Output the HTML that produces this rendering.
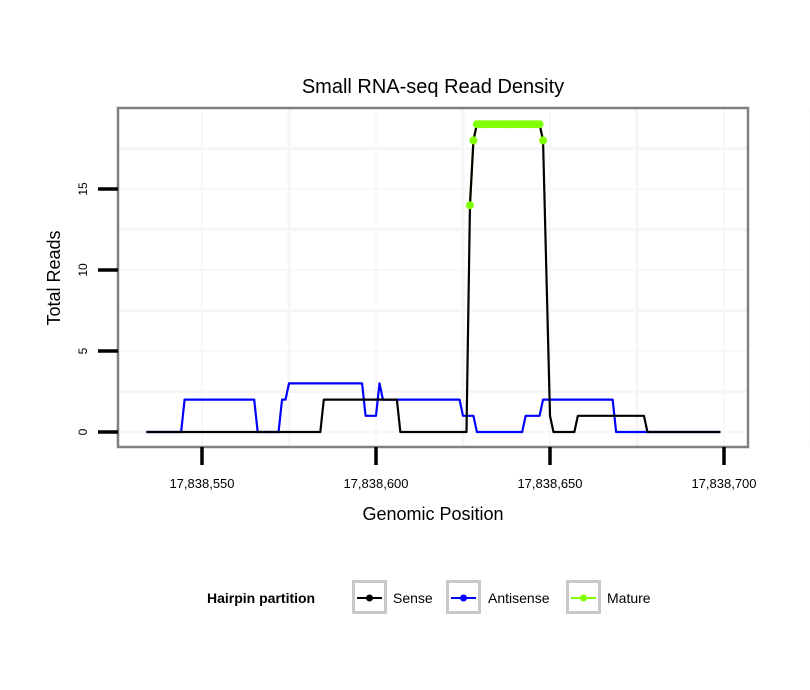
<!DOCTYPE html>
<html><head><meta charset="utf-8"><style>
body{margin:0;background:#fff;}
svg{display:block;font-family:"Liberation Sans",Arial,sans-serif;}
</style></head><body>
<svg id="chart" width="810" height="690" viewBox="0 0 810 690">
<rect width="810" height="690" fill="#fff"/>
<text x="433" y="93" font-size="20" text-anchor="middle">Small RNA-seq Read Density</text>
<g id="grid"></g>
<g id="series"></g>
<rect x="118" y="108" width="630" height="339" fill="none" stroke="#808080" stroke-width="2.5"/>
<g id="axes"></g>
<text x="433" y="520" font-size="18" text-anchor="middle">Genomic Position</text>
<text transform="translate(60,278) rotate(-90)" font-size="18" text-anchor="middle">Total Reads</text>
<g>
<text x="207" y="603" font-size="14" font-weight="bold">Hairpin partition</text>
<g>
<rect x="353.5" y="581.5" width="32" height="31" fill="#fff" stroke="#c8c8c8" stroke-width="3"/>
<line x1="357" y1="598" x2="382" y2="598" stroke="#000" stroke-width="2"/><circle cx="369.5" cy="598" r="3.5" fill="#000"/>
<text x="393" y="603" font-size="14">Sense</text></g>
<g>
<rect x="447.5" y="581.5" width="32" height="31" fill="#fff" stroke="#c8c8c8" stroke-width="3"/>
<line x1="451" y1="598" x2="476" y2="598" stroke="#0000ff" stroke-width="2"/><circle cx="463.5" cy="598" r="3.5" fill="#0000ff"/>
<text x="488" y="603" font-size="14">Antisense</text></g>
<g>
<rect x="567.5" y="581.5" width="32" height="31" fill="#fff" stroke="#c8c8c8" stroke-width="3"/>
<line x1="571" y1="598" x2="596" y2="598" stroke="#80ff00" stroke-width="2"/><circle cx="583.5" cy="598" r="3.5" fill="#80ff00"/>
<text x="607" y="603" font-size="14">Mature</text></g>
</g>
</svg>
<script>
const BASE = 17838500;
const senseX = [34,84,85,106,107,126,127,128,129,147,148,150,151,157,158,177,178,199];
const senseY = [0,0,2,2,0,0,14,18,19,19,18,1,0,0,1,1,0,0];
const antisenseX = [34,44,45,65,66,72,73,74,75,96,97,100,101,102,124,125,128,129,142,143,147,148,168,169,199];
const antisenseY = [0,0,2,2,0,0,2,2,3,3,1,1,3,2,2,1,1,0,0,1,1,2,2,0,0];
const matureX = [127,128,129,130,131,132,133,134,135,136,137,138,139,140,141,142,143,144,145,146,147,148];
const matureY = [14,18,19,19,19,19,19,19,19,19,19,19,19,19,19,19,19,19,19,19,19,18];
const xTicks = [17838550,17838600,17838650,17838700];
const xTickLabels = ["17,838,550","17,838,600","17,838,650","17,838,700"];
const yTicks = [0,5,10,15];
const yTickLabels = ["0","5","10","15"];

const NS="http://www.w3.org/2000/svg";
function sx(p){return 202+(p-17838550)*3.48;}
function sy(v){return 432-v*16.2;}
function mk(tag,attrs,parent){const e=document.createElementNS(NS,tag);for(const k in attrs)e.setAttribute(k,attrs[k]);parent.appendChild(e);return e;}
const grid=document.getElementById('grid'),series=document.getElementById('series'),axes=document.getElementById('axes');
for(let i=0;i<yTicks.length;i++){
  const y=sy(yTicks[i]);const l=mk('line',{x1:118,x2:748,y1:y,y2:y,stroke:'#f8f8f8','stroke-width':2},grid);
  
  
  const m=sy(yTicks[i]+2.5);const l2=mk('line',{x1:118,x2:748,y1:m,y2:m,stroke:'#f6f6f6','stroke-width':3},grid);
  
  
}
for(let i=0;i<xTicks.length;i++){
  const x=sx(xTicks[i]);const l=mk('line',{x1:x,x2:x,y1:108,y2:447,stroke:'#f8f8f8','stroke-width':2},grid);
  
  
  const m=sx(xTicks[i]+25);const l2=mk('line',{x1:m,x2:m,y1:108,y2:447,stroke:'#f6f6f6','stroke-width':3},grid);
  
  
}
for(let i=0;i<yTicks.length;i++){
  const y=sy(yTicks[i]);
  const t=mk('line',{x1:98,x2:118,y1:y,y2:y,stroke:'#000','stroke-width':3.5},axes);
  
  
  const tx=mk('text',{transform:`translate(87,${y}) rotate(-90)`,'font-size':12,'text-anchor':'middle'},axes);
  tx.textContent=yTickLabels[i];
  
  
}
for(let i=0;i<xTicks.length;i++){
  const x=sx(xTicks[i]);
  const t=mk('line',{x1:x,x2:x,y1:447,y2:465,stroke:'#000','stroke-width':3.5},axes);
  
  
  const tx=mk('text',{x:x,y:488,'font-size':13,'text-anchor':'middle'},axes);
  tx.textContent=xTickLabels[i];
  
  
}
function line(X,Y,color,name,w){
  const pts=X.map((p,i)=>sx(BASE+p)+','+sy(Y[i])).join(' ');
  const pl=mk('polyline',{points:pts,fill:'none',stroke:color,'stroke-width':w,'stroke-linejoin':'round'},series);
  
  
}
line(matureX,matureY,'#80ff00','mature-line',2.2);
line(antisenseX,antisenseY,'#0000ff','antisense-line',2.2);
line(senseX,senseY,'#000','sense-line',2.2);
for(let i=0;i<matureX.length;i++){
  const c=mk('circle',{cx:sx(BASE+matureX[i]),cy:sy(matureY[i]),r:4,fill:'#80ff00'},series);
  
  
}
</script>
</body></html>
